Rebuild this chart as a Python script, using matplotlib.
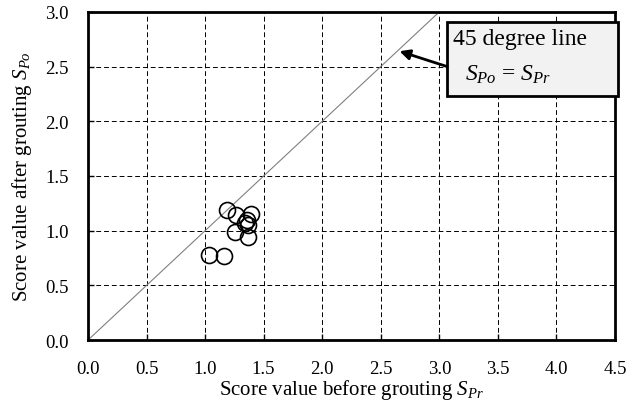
import matplotlib
matplotlib.use("Agg")
import matplotlib.pyplot as plt
from matplotlib.patches import Rectangle

plt.rcParams["font.family"] = ["Liberation Serif", "DejaVu Serif"]
plt.rcParams["mathtext.fontset"] = "custom"
plt.rcParams["mathtext.it"] = "Liberation Serif:italic"
plt.rcParams["mathtext.rm"] = "Liberation Serif"

# score values
s_before = [1.19, 1.26, 1.39, 1.34, 1.37, 1.36, 1.255, 1.37, 1.03, 1.16]
s_after = [1.19, 1.14, 1.15, 1.07, 1.05, 1.10, 0.99, 0.945, 0.78, 0.77]
line45 = [0.0, 3.0]

xticks = [0.0, 0.5, 1.0, 1.5, 2.0, 2.5, 3.0, 3.5, 4.0, 4.5]
yticks = [0.0, 0.5, 1.0, 1.5, 2.0, 2.5, 3.0]

fig = plt.figure(figsize=(6.42, 4.14), dpi=100)
ax = fig.add_axes([0.137, 0.176, 0.821, 0.793])

ax.plot(line45, line45, color="#808080", lw=0.8, zorder=2)
ax.plot(s_before, s_after, "o", ms=11.5, mfc="none", mec="black", mew=1.2, zorder=3)

ax.set_xlim(0, 4.5)
ax.set_ylim(0, 3.0)
ax.set_xticks(xticks)
ax.set_yticks(yticks)
ax.set_xticklabels(["%.1f" % v for v in xticks])
ax.set_yticklabels(["%.1f" % v for v in yticks])
ax.tick_params(direction="in", length=4, width=1, labelsize=13.5)
ax.tick_params(axis="x", pad=14)
ax.tick_params(axis="y", pad=14)
ax.grid(True, color="black", linestyle=(0, (5, 3)), lw=0.7)
for sp in ax.spines.values():
    sp.set_linewidth(2)

ax.set_xlabel("Score value before grouting $S_{Pr}$", fontsize=15, labelpad=0)
ax.set_ylabel("Score value after grouting $S_{Po}$", fontsize=15, labelpad=8)

# callout box for the 45 degree line
box = Rectangle((3.066, 2.232), 1.46, 0.677, fc="#f2f2f2", ec="black", lw=2,
                clip_on=False, zorder=5)
ax.add_patch(box)
ax.text(3.12, 2.76, "45 degree line", fontsize=17, va="center", ha="left", zorder=6)
ax.text(3.22, 2.43, "$S_{Po}$ = $S_{Pr}$", fontsize=17, va="center", ha="left", zorder=6)
ax.annotate("", xy=(2.66, 2.64), xytext=(3.066, 2.50),
            arrowprops=dict(arrowstyle="-|>", color="black", lw=2, mutation_scale=15,
                            shrinkA=0, shrinkB=0),
            zorder=5)

fig.savefig("out.png", dpi=100)
